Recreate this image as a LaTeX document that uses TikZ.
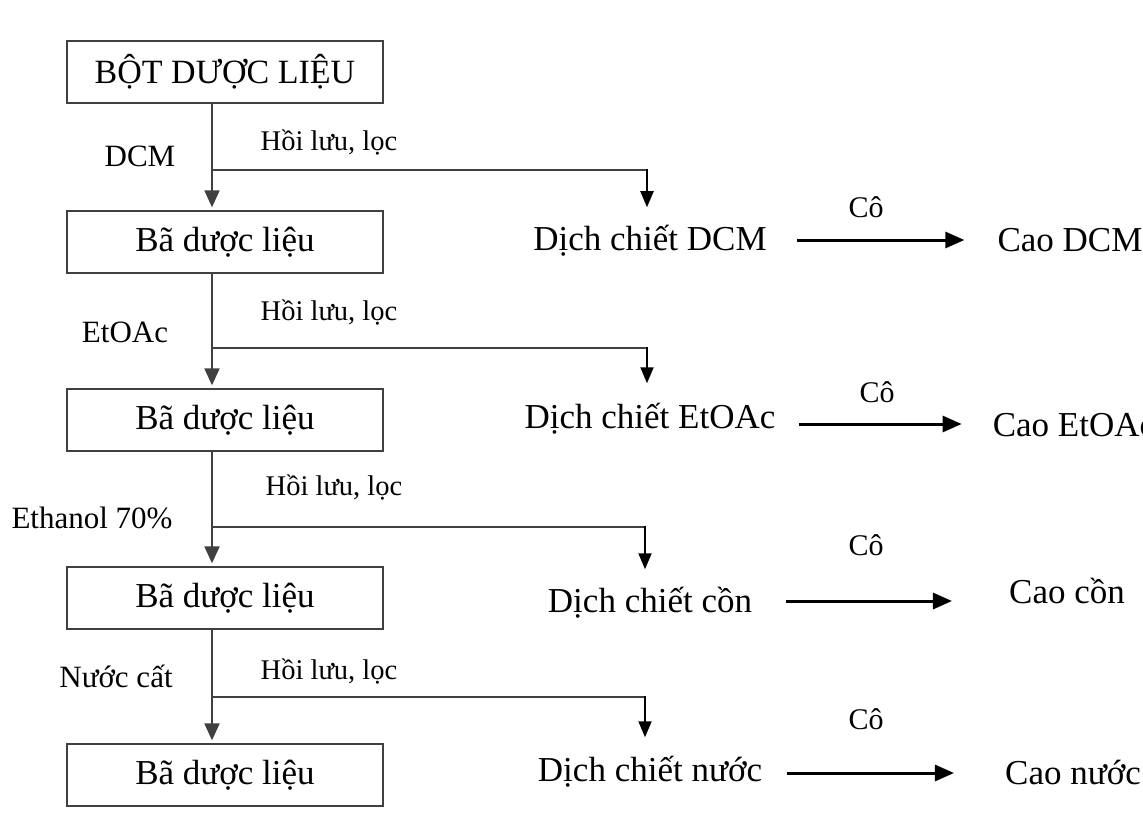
\documentclass[tikz,border=0pt]{standalone}
\usepackage{fontspec}
\setmainfont{Liberation Serif}
\usetikzlibrary{arrows.meta,calc}
\definecolor{linegray}{RGB}{64,64,64}
\begin{document}
\begin{tikzpicture}[x=1pt,y=-1pt,
  box/.style={draw=linegray,line width=1.3pt,minimum width=316pt,minimum height=62pt,
              inner sep=0pt,font=\fontsize{35}{35}\selectfont},
  txt/.style={inner sep=0pt,text depth=0pt,anchor=center},
  big/.style={txt,text height=23.1pt,font=\fontsize{35}{35}\selectfont},
  solvent/.style={txt,text height=20.5pt,font=\fontsize{31}{31}\selectfont},
  note/.style={txt,text height=18.8pt,font=\fontsize{28.5}{28.5}\selectfont},
  conc/.style={txt,text height=19.8pt,font=\fontsize{30}{30}\selectfont},
  spine/.style={draw=linegray,line width=2pt,-{Triangle[length=17pt,width=15pt]}},
  branch/.style={draw=linegray,line width=2pt},
  drop/.style={draw=black,line width=2pt,-{Triangle[length=16pt,width=13pt]}},
  evap/.style={draw=black,line width=3pt,-{Triangle[length=19pt,width=16pt]}}
]
\useasboundingbox (0,0) rectangle (1143,821);
\clip (0,0) rectangle (1143,821);
\fill[white] (0,0) rectangle (1143,821);

% residue column
\node[box,font=\fontsize{34}{34}\selectfont] (b1) at (225,72) {BỘT DƯỢC LIỆU};
\node[box] (b2) at (225,242) {Bã dược liệu};
\node[box] (b3) at (225,420) {Bã dược liệu};
\node[box] (b4) at (225,598) {Bã dược liệu};
\node[box] (b5) at (225,775) {Bã dược liệu};
\coordinate (sp) at (212,0);

% solvents
\node[solvent] (s1) at (140,156) {DCM};
\node[solvent] (s2) at (125,332) {EtOAc};
\node[solvent] (s3) at (92,518)  {Ethanol 70\%};
\node[solvent] (s4) at (116,677) {Nước cất};

% reflux / filtration labels
\node[note] (h1) at (329,141) {Hồi lưu, lọc};
\node[note] (h2) at (329,311) {Hồi lưu, lọc};
\node[note] (h3) at (334,486) {Hồi lưu, lọc};
\node[note] (h4) at (329,670) {Hồi lưu, lọc};

% extracts
\node[big] (d1) at (650,239) {Dịch chiết DCM};
\node[big] (d2) at (650,417) {Dịch chiết EtOAc};
\node[big] (d3) at (650,601) {Dịch chiết cồn};
\node[big] (d4) at (650,770) {Dịch chiết nước};

% dry extracts
\node[big] (c1) at (1070,240) {Cao DCM};
\node[big] (c2) at (1074,425) {Cao EtOAc};
\node[big] (c3) at (1067,592) {Cao cồn};
\node[big] (c4) at (1073,773) {Cao nước};

% concentration labels
\node[conc] (k1) at (866,208) {Cô};
\node[conc] (k2) at (877,393) {Cô};
\node[conc] (k3) at (866,546) {Cô};
\node[conc] (k4) at (866,720) {Cô};

% main flow down the residue column
\draw[spine] (b1.south -| sp) -- ([yshift=3pt]b2.north -| sp);
\draw[spine] (b2.south -| sp) -- ([yshift=3pt]b3.north -| sp);
\draw[spine] (b3.south -| sp) -- ([yshift=3pt]b4.north -| sp);
\draw[spine] (b4.south -| sp) -- ([yshift=3pt]b5.north -| sp);

% branches to the extracts
\coordinate (j1) at (212,170);
\coordinate (j2) at (212,348);
\coordinate (j3) at (212,527);
\coordinate (j4) at (212,697);
\coordinate (e1) at (647,0);
\coordinate (e3) at (645,0);
\draw[branch] (j1) -- ([xshift=1pt]j1 -| e1);
\draw[branch] (j2) -- ([xshift=1pt]j2 -| e1);
\draw[branch] (j3) -- ([xshift=1pt]j3 -| e3);
\draw[branch] (j4) -- ([xshift=1pt]j4 -| e3);
\draw[drop] ([yshift=1pt]j1 -| e1) -- ([yshift=20pt]d1.north -| e1);
\draw[drop] ([yshift=1pt]j2 -| e1) -- ([yshift=22pt]d2.north -| e1);
\draw[drop] ([yshift=1pt]j3 -| e3) -- ([yshift=20pt]d3.north -| e3);
\draw[drop] ([yshift=1pt]j4 -| e3) -- ([yshift=21pt]d4.north -| e3);

% concentration arrows
\draw[evap] ([xshift=30pt,yshift=-1pt]d1.east) -- ([xshift=-33pt,yshift=-1pt]d1.east -| c1.west);
\draw[evap] ([xshift=23pt,yshift=-7pt]d2.east) -- ([xshift=-31pt,yshift=-7pt]d2.east -| c2.west);
\draw[evap] ([xshift=34pt]d3.east) -- ([xshift=-57pt]d3.east -| c3.west);
\draw[evap] ([xshift=25pt,yshift=-3pt]d4.east) -- ([xshift=-51pt,yshift=-3pt]d4.east -| c4.west);
\end{tikzpicture}
\end{document}
